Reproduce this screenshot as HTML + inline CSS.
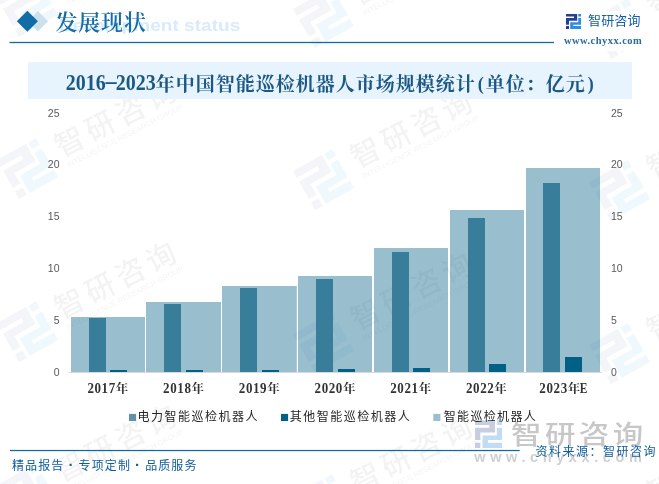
<!DOCTYPE html>
<html lang="zh-CN">
<head>
<meta charset="utf-8">
<title>2016-2023年中国智能巡检机器人市场规模统计</title>
<style>
*{margin:0;padding:0;}
html,body{background:#fff;}
ul{list-style:none;}
body{width:659px;height:484px;position:relative;z-index:0;overflow:hidden;font-family:"Liberation Sans","Noto Sans CJK SC",sans-serif;}
.abs{position:absolute;white-space:nowrap;}
svg.layer{position:absolute;left:0;top:0;}
.en{left:58.5px;top:14px;font:bold 16.7px/24px "Liberation Sans",sans-serif;color:#d9ebfa;transform:scaleX(1.143);transform-origin:0 0;}
.h1{left:55.5px;top:5.5px;letter-spacing:0.8px;font:600 22px/34px "Liberation Serif","Noto Serif CJK SC",serif;color:#146ca8;}
.brand{left:588px;top:12px;font:400 13px/18px "Liberation Sans","Noto Sans CJK SC",sans-serif;color:#1560a8;letter-spacing:0.15px;}
.url{left:564px;top:34px;font:bold 10.5px/14px "Liberation Serif",serif;color:#2a6aa0;letter-spacing:0.45px;word-spacing:0;}
.band{left:28px;top:62px;width:603.5px;height:36.75px;background:#e7f4fd;}
.title{left:29px;top:62px;width:603.5px;height:37px;text-align:center;font:700 19px/45px "Liberation Serif","Noto Serif CJK SC",serif;letter-spacing:1px;color:#1b5884;}
.title i{font-style:normal;display:inline-block;width:10px;text-align:center;font-size:18px;position:relative;top:-1px;letter-spacing:0;}
.title i.d{transform:scaleX(2.2);top:-3.3px;font-size:20px;}
.title span{display:inline-block;font-size:20px;letter-spacing:0;transform:translateY(-0.9px) scaleY(1.13);transform-origin:50% 72%;}
.cat{position:absolute;top:380px;text-align:center;white-space:nowrap;font:bold 12.5px/18px "Liberation Serif","Noto Serif CJK SC",serif;color:#333;letter-spacing:0.6px;}
.cat span{display:inline-block;font-size:13px;transform:translateY(-0.3px) scaleY(1.13);transform-origin:50% 72%;}
.cat small{display:inline-block;font-size:11.5px;letter-spacing:0;margin-left:-1px;transform:scaleY(1.18);transform-origin:50% 72%;}
.yl{position:absolute;width:30px;height:14px;font:10.5px/14px "Liberation Sans",sans-serif;color:#595959;}
.yl.l{left:29.5px;text-align:right;}
.yl.r{left:611px;text-align:left;}
.lg{top:408px;font:400 12px/18px "Liberation Sans","Noto Sans CJK SC",sans-serif;color:#262626;letter-spacing:1.5px;}
.ft{left:12px;top:457px;font:400 12px/18px "Liberation Sans","Noto Sans CJK SC",sans-serif;color:#0f5c9c;letter-spacing:1.1px;word-spacing:-0.4px;}
.ft b{font-weight:bold;font-size:15px;line-height:12px;}
.src{left:535.5px;top:443px;font:400 12px/18px "Liberation Sans","Noto Sans CJK SC",sans-serif;color:#0f5c9c;letter-spacing:1.5px;}
.big{left:511px;top:415px;font:500 26.5px/40px "Liberation Sans","Noto Sans CJK SC",sans-serif;color:rgba(70,70,70,0.3);letter-spacing:3px;transform:scaleX(1.15);transform-origin:0 0;}
.bigurl{left:474.3px;top:445.5px;font:bold 14.5px/22px "Liberation Sans",sans-serif;color:rgba(70,70,70,0.26);letter-spacing:4.6px;}
.wms{position:absolute;left:0;top:0;width:0;height:0;z-index:-1;}
.wm{position:absolute;width:0;height:0;}
.wm .wmi{position:absolute;left:-22.6px;top:-22.6px;transform:rotate(-29.5deg);}
.wm .wmx{position:absolute;left:0;top:0;width:0;height:0;transform:rotate(-27deg);}
.wm .wmt{position:absolute;left:34.8px;top:-25.5px;font:500 29.5px/40px "Liberation Sans","Noto Sans CJK SC",sans-serif;color:rgba(0,0,0,0.048);white-space:nowrap;letter-spacing:4.6px;}
.wm .wme{position:absolute;left:36.3px;top:8.8px;font:400 7.66px/12px "Liberation Sans",sans-serif;color:rgba(0,0,0,0.052);white-space:nowrap;letter-spacing:0;}
</style>
</head>
<body>
<svg class="layer" width="659" height="484" viewBox="0 0 659 484">
<polygon points="48.1,21.3 37.9,11.1 27.7,21.3 37.9,31.5" fill="#cbe1ec"/>
<polygon points="16.8,21.3 27.35,10.8 37.9,21.3 27.35,31.8" fill="#116da6"/>
<rect x="554" y="11" width="105" height="40" fill="#fff"/>
<rect x="9.5" y="41.85" width="544.5" height="1.3" fill="#136aa2"/>
<rect x="10" y="449.9" width="509.7" height="1.25" fill="#136aa2"/>
<svg x="566" y="14" width="15.2" height="15" viewBox="0 0 15.2 15"><path d="M0 0H11.2V6.65H3V10.7H0V4.1H8V2.6H0Z M0 12.1H3V15H0Z" fill="#24408e"/><path d="M12.2 0H15.2V2.6H12.2Z M12.2 4.1H15.2V10.7H7.3V12.1H15.2V15H4.2V8.2H12.2Z" fill="#2e8ee0"/></svg>
<svg x="475" y="420.3" width="27.2" height="27.7" viewBox="0 0 15.2 15" preserveAspectRatio="none" opacity="0.3"><path d="M0 0H11.2V6.65H3V10.7H0V4.1H8V2.6H0Z M0 12.1H3V15H0Z" fill="#4a60a0"/><path d="M12.2 0H15.2V2.6H12.2Z M12.2 4.1H15.2V10.7H7.3V12.1H15.2V15H4.2V8.2H12.2Z" fill="#3a8edc"/></svg>
<rect x="89" y="318" width="17" height="54.0" fill="#5e93a8"/>
<rect x="110" y="370" width="17" height="2.0" fill="#006186"/>
<rect x="164" y="304" width="17" height="68.0" fill="#5e93a8"/>
<rect x="186" y="370" width="17" height="2.0" fill="#006186"/>
<rect x="240" y="288" width="17" height="84.0" fill="#5e93a8"/>
<rect x="262" y="370" width="17" height="2.0" fill="#006186"/>
<rect x="316" y="279" width="17" height="93.0" fill="#5e93a8"/>
<rect x="338" y="369" width="17" height="3.0" fill="#006186"/>
<rect x="392" y="252" width="17" height="120.0" fill="#5e93a8"/>
<rect x="413" y="368" width="17" height="4.0" fill="#006186"/>
<rect x="468" y="218" width="17" height="154.0" fill="#5e93a8"/>
<rect x="489" y="364" width="17" height="8.0" fill="#006186"/>
<rect x="543" y="183" width="17" height="189.0" fill="#5e93a8"/>
<rect x="565" y="357" width="17" height="15.0" fill="#006186"/>
<g fill="#005f87" fill-opacity="0.4">
<rect x="71" y="317" width="74.0" height="55.0"/>
<rect x="146" y="302" width="75.0" height="70.0"/>
<rect x="222" y="286" width="74.8" height="86.0"/>
<rect x="298" y="276" width="74.0" height="96.0"/>
<rect x="374" y="248" width="74.0" height="124.0"/>
<rect x="450" y="210" width="74.0" height="162.0"/>
<rect x="526" y="168" width="74.0" height="204.0"/>
</g>
<rect x="68.5" y="372" width="533" height="1" fill="#d9d9d9"/>
<rect x="129" y="413.9" width="7.1" height="7.1" fill="#5e93a8"/>
<rect x="281" y="413.9" width="7.1" height="7.1" fill="#006186"/>
<rect x="433.3" y="413.9" width="7.1" height="7.1" fill="#9bbfcf"/>
</svg>
<header>
<p class="abs en">Development status</p>
<h1 class="abs h1">发展现状</h1>
<p class="abs brand">智研咨询</p>
<p class="abs url">www.chyxx.com</p>
</header>
<main>
<div class="abs band"></div>
<h2 class="abs title"><span>2016</span><i class="d">-</i><span>2023</span>年中国智能巡检机器人市场规模统计<i>(</i>单位：亿元<i>)</i></h2>
<div class="axis">
<div class="yl l" style="top:106px">25</div>
<div class="yl r" style="top:106px">25</div>
<div class="yl l" style="top:157px">20</div>
<div class="yl r" style="top:157px">20</div>
<div class="yl l" style="top:209px">15</div>
<div class="yl r" style="top:209px">15</div>
<div class="yl l" style="top:261px">10</div>
<div class="yl r" style="top:261px">10</div>
<div class="yl l" style="top:313px">5</div>
<div class="yl r" style="top:313px">5</div>
<div class="yl l" style="top:365px">0</div>
<div class="yl r" style="top:365px">0</div>
</div>
<div class="cats">
<div class="cat" style="left:70.30px;width:75.71px"><span>2017</span>年</div>
<div class="cat" style="left:146.01px;width:75.71px"><span>2018</span>年</div>
<div class="cat" style="left:221.73px;width:75.71px"><span>2019</span>年</div>
<div class="cat" style="left:297.44px;width:75.71px"><span>2020</span>年</div>
<div class="cat" style="left:373.16px;width:75.71px"><span>2021</span>年</div>
<div class="cat" style="left:448.87px;width:75.71px"><span>2022</span>年</div>
<div class="cat" style="left:525.59px;width:75.71px"><span>2023</span>年<small>E</small></div>
</div>
<ul class="legend">
<li class="abs lg" style="left:137.5px">电力智能巡检机器人</li>
<li class="abs lg" style="left:289.7px">其他智能巡检机器人</li>
<li class="abs lg" style="left:443.7px;letter-spacing:1.35px">智能巡检机器人</li>
</ul>
</main>
<footer>
<p class="abs big">智研咨询</p>
<p class="abs bigurl">www.chyxx.com</p>
<p class="abs ft">精品报告 <b>·</b> 专项定制 <b>·</b> 品质服务</p>
<p class="abs src">资料来源：智研咨询</p>
</footer>
<aside class="wms">
<div class="wm" style="left:28.0px;top:6.1px"><svg class="wmi" width="45.2" height="45.2" viewBox="0 0 15.2 15" preserveAspectRatio="none"><path d="M0 0H11.2V6.65H3V10.7H0V4.1H8V2.6H0Z M0 12.1H3V15H0Z" fill="#24408e" fill-opacity="0.052"/><path d="M12.2 0H15.2V2.6H12.2Z M12.2 4.1H15.2V10.7H7.3V12.1H15.2V15H4.2V8.2H12.2Z" fill="#37a7d9" fill-opacity="0.08"/></svg><div class="wmx"><span class="wmt">智研咨询</span><span class="wme">INTELLIGENCE RESEARCH GROUP</span></div></div>
<div class="wm" style="left:28.0px;top:168.6px"><svg class="wmi" width="45.2" height="45.2" viewBox="0 0 15.2 15" preserveAspectRatio="none"><path d="M0 0H11.2V6.65H3V10.7H0V4.1H8V2.6H0Z M0 12.1H3V15H0Z" fill="#24408e" fill-opacity="0.052"/><path d="M12.2 0H15.2V2.6H12.2Z M12.2 4.1H15.2V10.7H7.3V12.1H15.2V15H4.2V8.2H12.2Z" fill="#37a7d9" fill-opacity="0.08"/></svg><div class="wmx"><span class="wmt">智研咨询</span><span class="wme">INTELLIGENCE RESEARCH GROUP</span></div></div>
<div class="wm" style="left:28.0px;top:331.1px"><svg class="wmi" width="45.2" height="45.2" viewBox="0 0 15.2 15" preserveAspectRatio="none"><path d="M0 0H11.2V6.65H3V10.7H0V4.1H8V2.6H0Z M0 12.1H3V15H0Z" fill="#24408e" fill-opacity="0.052"/><path d="M12.2 0H15.2V2.6H12.2Z M12.2 4.1H15.2V10.7H7.3V12.1H15.2V15H4.2V8.2H12.2Z" fill="#37a7d9" fill-opacity="0.08"/></svg><div class="wmx"><span class="wmt">智研咨询</span><span class="wme">INTELLIGENCE RESEARCH GROUP</span></div></div>
<div class="wm" style="left:28.0px;top:493.6px"><svg class="wmi" width="45.2" height="45.2" viewBox="0 0 15.2 15" preserveAspectRatio="none"><path d="M0 0H11.2V6.65H3V10.7H0V4.1H8V2.6H0Z M0 12.1H3V15H0Z" fill="#24408e" fill-opacity="0.052"/><path d="M12.2 0H15.2V2.6H12.2Z M12.2 4.1H15.2V10.7H7.3V12.1H15.2V15H4.2V8.2H12.2Z" fill="#37a7d9" fill-opacity="0.08"/></svg><div class="wmx"><span class="wmt">智研咨询</span><span class="wme">INTELLIGENCE RESEARCH GROUP</span></div></div>
<div class="wm" style="left:324.0px;top:17.1px"><svg class="wmi" width="45.2" height="45.2" viewBox="0 0 15.2 15" preserveAspectRatio="none"><path d="M0 0H11.2V6.65H3V10.7H0V4.1H8V2.6H0Z M0 12.1H3V15H0Z" fill="#24408e" fill-opacity="0.052"/><path d="M12.2 0H15.2V2.6H12.2Z M12.2 4.1H15.2V10.7H7.3V12.1H15.2V15H4.2V8.2H12.2Z" fill="#37a7d9" fill-opacity="0.08"/></svg><div class="wmx"><span class="wmt">智研咨询</span><span class="wme">INTELLIGENCE RESEARCH GROUP</span></div></div>
<div class="wm" style="left:324.0px;top:179.6px"><svg class="wmi" width="45.2" height="45.2" viewBox="0 0 15.2 15" preserveAspectRatio="none"><path d="M0 0H11.2V6.65H3V10.7H0V4.1H8V2.6H0Z M0 12.1H3V15H0Z" fill="#24408e" fill-opacity="0.052"/><path d="M12.2 0H15.2V2.6H12.2Z M12.2 4.1H15.2V10.7H7.3V12.1H15.2V15H4.2V8.2H12.2Z" fill="#37a7d9" fill-opacity="0.08"/></svg><div class="wmx"><span class="wmt">智研咨询</span><span class="wme">INTELLIGENCE RESEARCH GROUP</span></div></div>
<div class="wm" style="left:324.0px;top:342.1px"><svg class="wmi" width="45.2" height="45.2" viewBox="0 0 15.2 15" preserveAspectRatio="none"><path d="M0 0H11.2V6.65H3V10.7H0V4.1H8V2.6H0Z M0 12.1H3V15H0Z" fill="#24408e" fill-opacity="0.052"/><path d="M12.2 0H15.2V2.6H12.2Z M12.2 4.1H15.2V10.7H7.3V12.1H15.2V15H4.2V8.2H12.2Z" fill="#37a7d9" fill-opacity="0.08"/></svg><div class="wmx"><span class="wmt">智研咨询</span><span class="wme">INTELLIGENCE RESEARCH GROUP</span></div></div>
<div class="wm" style="left:324.0px;top:504.6px"><svg class="wmi" width="45.2" height="45.2" viewBox="0 0 15.2 15" preserveAspectRatio="none"><path d="M0 0H11.2V6.65H3V10.7H0V4.1H8V2.6H0Z M0 12.1H3V15H0Z" fill="#24408e" fill-opacity="0.052"/><path d="M12.2 0H15.2V2.6H12.2Z M12.2 4.1H15.2V10.7H7.3V12.1H15.2V15H4.2V8.2H12.2Z" fill="#37a7d9" fill-opacity="0.08"/></svg><div class="wmx"><span class="wmt">智研咨询</span><span class="wme">INTELLIGENCE RESEARCH GROUP</span></div></div>
<div class="wm" style="left:620.0px;top:28.1px"><svg class="wmi" width="45.2" height="45.2" viewBox="0 0 15.2 15" preserveAspectRatio="none"><path d="M0 0H11.2V6.65H3V10.7H0V4.1H8V2.6H0Z M0 12.1H3V15H0Z" fill="#24408e" fill-opacity="0.052"/><path d="M12.2 0H15.2V2.6H12.2Z M12.2 4.1H15.2V10.7H7.3V12.1H15.2V15H4.2V8.2H12.2Z" fill="#37a7d9" fill-opacity="0.08"/></svg><div class="wmx"><span class="wmt">智研咨询</span><span class="wme">INTELLIGENCE RESEARCH GROUP</span></div></div>
<div class="wm" style="left:620.0px;top:190.6px"><svg class="wmi" width="45.2" height="45.2" viewBox="0 0 15.2 15" preserveAspectRatio="none"><path d="M0 0H11.2V6.65H3V10.7H0V4.1H8V2.6H0Z M0 12.1H3V15H0Z" fill="#24408e" fill-opacity="0.052"/><path d="M12.2 0H15.2V2.6H12.2Z M12.2 4.1H15.2V10.7H7.3V12.1H15.2V15H4.2V8.2H12.2Z" fill="#37a7d9" fill-opacity="0.08"/></svg><div class="wmx"><span class="wmt">智研咨询</span><span class="wme">INTELLIGENCE RESEARCH GROUP</span></div></div>
<div class="wm" style="left:620.0px;top:353.1px"><svg class="wmi" width="45.2" height="45.2" viewBox="0 0 15.2 15" preserveAspectRatio="none"><path d="M0 0H11.2V6.65H3V10.7H0V4.1H8V2.6H0Z M0 12.1H3V15H0Z" fill="#24408e" fill-opacity="0.052"/><path d="M12.2 0H15.2V2.6H12.2Z M12.2 4.1H15.2V10.7H7.3V12.1H15.2V15H4.2V8.2H12.2Z" fill="#37a7d9" fill-opacity="0.08"/></svg><div class="wmx"><span class="wmt">智研咨询</span><span class="wme">INTELLIGENCE RESEARCH GROUP</span></div></div>
<div class="wm" style="left:620.0px;top:515.6px"><svg class="wmi" width="45.2" height="45.2" viewBox="0 0 15.2 15" preserveAspectRatio="none"><path d="M0 0H11.2V6.65H3V10.7H0V4.1H8V2.6H0Z M0 12.1H3V15H0Z" fill="#24408e" fill-opacity="0.052"/><path d="M12.2 0H15.2V2.6H12.2Z M12.2 4.1H15.2V10.7H7.3V12.1H15.2V15H4.2V8.2H12.2Z" fill="#37a7d9" fill-opacity="0.08"/></svg><div class="wmx"><span class="wmt">智研咨询</span><span class="wme">INTELLIGENCE RESEARCH GROUP</span></div></div>
</aside>
</body>
</html>
